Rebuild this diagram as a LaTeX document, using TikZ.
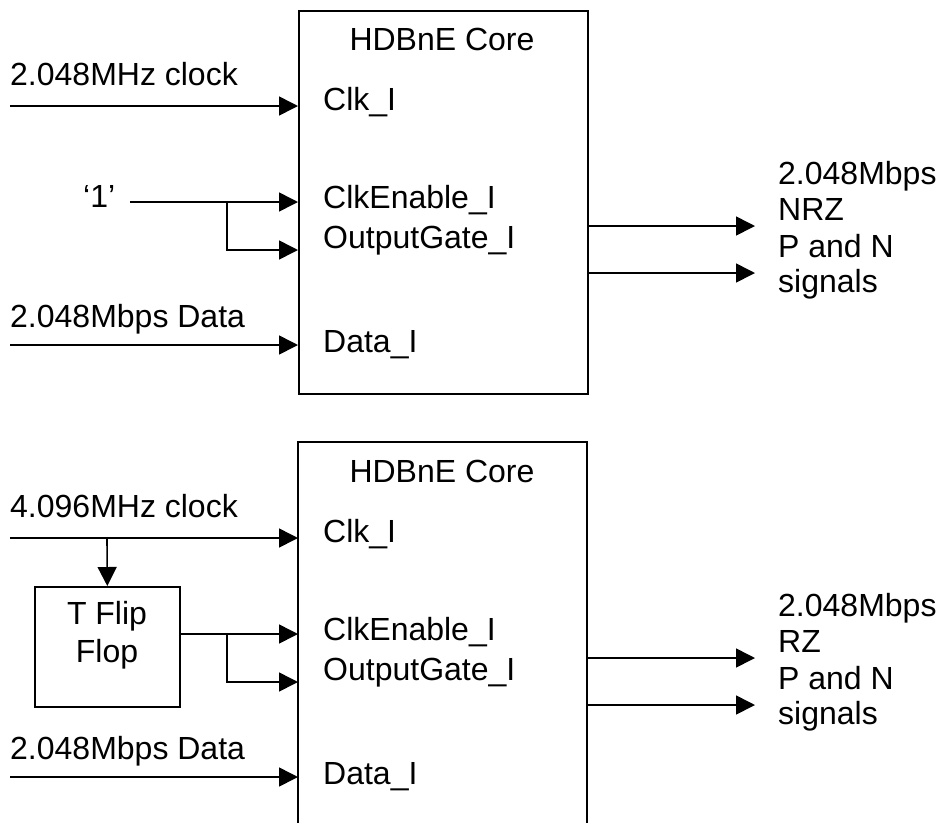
\documentclass[tikz,border=0pt]{standalone}
\usepackage{fontspec}
\setmainfont{Liberation Sans}
\usetikzlibrary{arrows.meta}
\begin{document}
\begin{tikzpicture}[x=1pt,y=-1pt,
  wire/.style={line width=1.6pt},
  sig/.style={wire,-{Triangle[length=19pt,width=19pt]}},
  lbl/.style={inner sep=0pt,font=\fontsize{32}{36}\selectfont},
  blk/.style={draw,wire,inner sep=0pt,anchor=north west}]
\useasboundingbox (0,0) rectangle (943,823);

% ---------- upper arrangement: 2.048 MHz clock, enables tied high ----------
\node[blk,minimum width=289pt,minimum height=383pt] (coreA) at (298,10) {};
\node[lbl,anchor=base] (coreAt) at (442,50) {HDBnE Core};
\node[lbl,anchor=base west] (clkA)  at (323,110) {Clk\_I};
\node[lbl,anchor=base west] (ceA)   at (323,208) {ClkEnable\_I};
\node[lbl,anchor=base west] (ogA)   at (323,248) {OutputGate\_I};
\node[lbl,anchor=base west] (datA)  at (323,352) {Data\_I};

\node[lbl,anchor=base west] (clkinA) at (10,85)  {2.048MHz clock};
\node[lbl,anchor=base west] (one)    at (83,207) {‘1’};
\node[lbl,anchor=base west] (datinA) at (10,327) {2.048Mbps Data};

\coordinate (clkSA) at (10,106);   \coordinate (clkEA) at (298,106);
\coordinate (oneS)  at (130,202);  \coordinate (ceEA)  at (298,202);
\coordinate (jA)    at (227,202);  \coordinate (ogEA)  at (298,250);
\coordinate (datSA) at (10,345);   \coordinate (datEA) at (298,345);
\draw[sig] (clkSA) -- (clkEA);
\draw[sig] (oneS) -- (ceEA);
\draw[sig] (jA) |- (ogEA);
\draw[sig] (datSA) -- (datEA);

\coordinate (pSA) at (587,226); \coordinate (pEA) at (755,226);
\coordinate (nSA) at (587,273); \coordinate (nEA) at (755,273);
\draw[sig] (pSA) -- (pEA);
\draw[sig] (nSA) -- (nEA);
\node[lbl,anchor=base west] (outA1) at (778,184) {2.048Mbps};
\node[lbl,anchor=base west] (outA2) at (778,220) {NRZ};
\node[lbl,anchor=base west] (outA3) at (778,257) {P and N};
\node[lbl,anchor=base west] (outA4) at (778,292) {signals};

% ---------- lower arrangement: 4.096 MHz clock with T flip-flop enable ----------
\coordinate (coreBsw) at (298,823); \coordinate (coreBnw) at (298,442);
\coordinate (coreBne) at (587,442); \coordinate (coreBse) at (587,823);
\draw[wire] (coreBsw) -- (coreBnw) -- (coreBne) -- (coreBse);
\node[lbl,anchor=base] (coreBt) at (442,482) {HDBnE Core};
\node[lbl,anchor=base west] (clkB)  at (323,542) {Clk\_I};
\node[lbl,anchor=base west] (ceB)   at (323,640) {ClkEnable\_I};
\node[lbl,anchor=base west] (ogB)   at (323,680) {OutputGate\_I};
\node[lbl,anchor=base west] (datB)  at (323,784) {Data\_I};

\node[lbl,anchor=base west] (clkinB) at (10,517) {4.096MHz clock};
\node[lbl,anchor=base west] (datinB) at (10,759) {2.048Mbps Data};

\node[blk,minimum width=145pt,minimum height=120pt] (tff) at (34,586) {};
\node[lbl,anchor=base] (tff1) at (107,624) {T Flip};
\node[lbl,anchor=base] (tff2) at (107,662) {Flop};

\coordinate (clkSB) at (10,538);   \coordinate (clkEB) at (298,538);
\coordinate (tapB)  at (107,538);
\coordinate (tffO)  at (179,634);  \coordinate (ceEB)  at (298,634);
\coordinate (jB)    at (227,634);  \coordinate (ogEB)  at (298,682);
\coordinate (datSB) at (10,777);   \coordinate (datEB) at (298,777);
\draw[sig] (clkSB) -- (clkEB);
\draw[sig] (tapB) -- (tff.north);
\draw[sig] (tffO) -- (ceEB);
\draw[sig] (jB) |- (ogEB);
\draw[sig] (datSB) -- (datEB);

\coordinate (pSB) at (587,658); \coordinate (pEB) at (755,658);
\coordinate (nSB) at (587,705); \coordinate (nEB) at (755,705);
\draw[sig] (pSB) -- (pEB);
\draw[sig] (nSB) -- (nEB);
\node[lbl,anchor=base west] (outB1) at (778,616) {2.048Mbps};
\node[lbl,anchor=base west] (outB2) at (778,652) {RZ};
\node[lbl,anchor=base west] (outB3) at (778,689) {P and N};
\node[lbl,anchor=base west] (outB4) at (778,724) {signals};
\end{tikzpicture}
\end{document}
